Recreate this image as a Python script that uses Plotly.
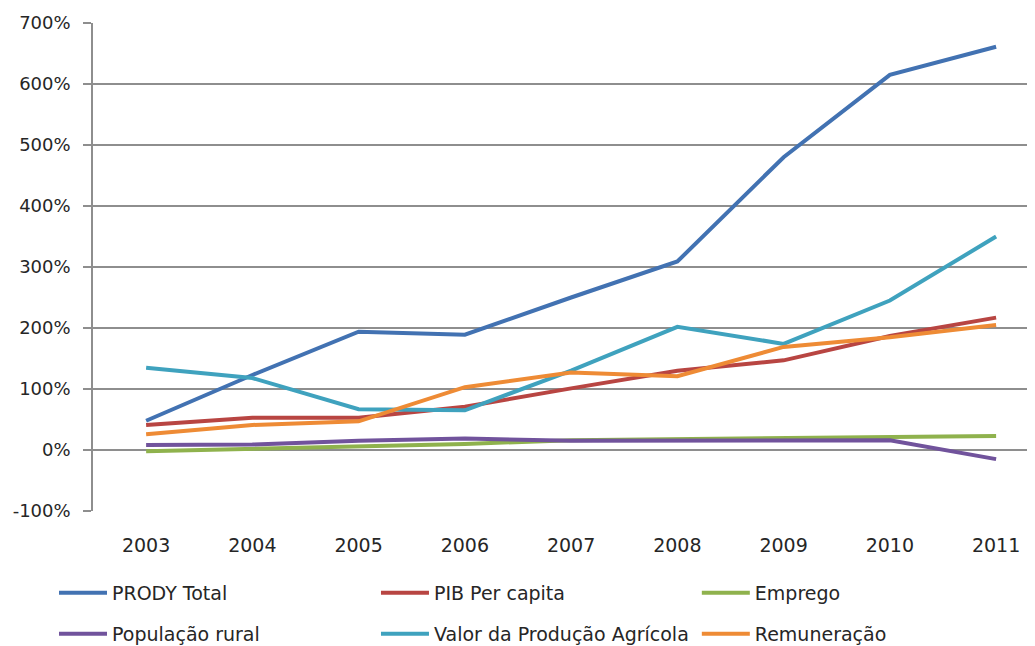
import plotly.graph_objects as go

years = ["2003", "2004", "2005", "2006", "2007", "2008", "2009", "2010", "2011"]

prody_total = [48, 123, 194, 189, 250, 309, 480, 615, 661]
pib_per_capita = [41, 53, 53, 71, 101, 130, 147, 187, 217]
emprego = [-2, 2, 5, 10, 16, 18, 19, 21, 23]
populacao_rural = [8, 9, 15, 19, 15, 15, 15, 16, -15]
valor_producao = [135, 118, 67, 65, 130, 202, 174, 245, 350]
remuneracao = [26, 41, 47, 103, 127, 121, 169, 185, 205]

y_tick_values = [-100, 0, 100, 200, 300, 400, 500, 600, 700]
y_tick_labels = ["-100%", "0%", "100%", "200%", "300%", "400%", "500%", "600%", "700%"]

series = [
    ("PRODY Total", prody_total, "#4272B2"),
    ("PIB Per capita", pib_per_capita, "#B84542"),
    ("Emprego", emprego, "#8FB24D"),
    ("População rural", populacao_rural, "#71539C"),
    ("Valor da Produção Agrícola", valor_producao, "#3FA2BE"),
    ("Remuneração", remuneracao, "#EE8B35"),
]

font_family = "DejaVu Sans"
text_col = "#262626"
grid_col = "#8e8e8e"

# legend slots: 3 columns x 2 rows (paper coords)
col_x = [-0.0414, 0.3004, 0.641]
row_y = [-0.168, -0.252]

fig = go.Figure()
legend_layout = {}
for i, (name, vals, color) in enumerate(series):
    lg = "legend" if i == 0 else f"legend{i + 1}"
    fig.add_trace(go.Scatter(
        x=list(range(len(years))), y=vals, name=name, mode="lines",
        line=dict(color=color, width=4),
        legend=lg,
    ))
    legend_layout[lg] = dict(
        orientation="h",
        x=col_x[i % 3], y=row_y[i // 3],
        xanchor="left", yanchor="middle",
        itemwidth=48,
        font=dict(family=font_family, size=19, color=text_col),
        bgcolor="rgba(0,0,0,0)",
        itemclick=False, itemdoubleclick=False,
    )

# the page body adds an 8px margin, so the figure is sized to fit the window
fig.update_layout(
    width=1027, height=638,
    margin=dict(l=85, r=0, t=15, b=135, autoexpand=False),
    paper_bgcolor="white", plot_bgcolor="white",
    font=dict(family=font_family, size=18, color=text_col),
    showlegend=True,
    xaxis=dict(
        range=[-0.5, 8.366],
        tickmode="array",
        tickvals=list(range(len(years))),
        ticktext=years,
        showgrid=False, zeroline=False, showline=False,
        ticks="", ticklabelstandoff=21, automargin=False,
        tickfont=dict(family=font_family, size=19, color=text_col),
    ),
    xaxis2=dict(
        overlaying="x", anchor="free", position=0.125, side="bottom",
        range=[-0.5, 8.366],
        tickmode="array", tickvals=list(range(len(years))),
        showticklabels=False, showgrid=False, zeroline=False, showline=False,
        ticks="inside", ticklen=5, tickwidth=1.5, tickcolor=grid_col,
    ),
    yaxis=dict(
        range=[-100, 700],
        tickmode="array",
        tickvals=y_tick_values,
        ticktext=y_tick_labels,
        showgrid=True, gridcolor=grid_col, gridwidth=1.5,
        zeroline=False, automargin=False,
        showline=True, linecolor=grid_col, linewidth=1.5,
        ticks="outside", ticklen=8, tickwidth=1.5, tickcolor=grid_col,
        ticklabelstandoff=9,
        tickfont=dict(family=font_family, size=18, color=text_col),
    ),
    **legend_layout,
)

fig.write_html("out.html")
